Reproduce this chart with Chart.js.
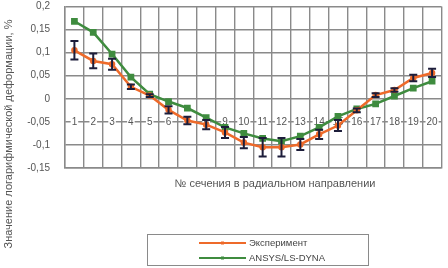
<!DOCTYPE html>
<html lang="ru">
<head>
<meta charset="utf-8">
<title>Логарифмическая деформация</title>
<script src="https://cdn.jsdelivr.net/npm/chart.js@4.4.0/dist/chart.umd.min.js"></script>
<style>
  html, body { margin: 0; padding: 0; background: #fff; }
  #wrap { width: 448px; height: 268px; position: relative; }
</style>
</head>
<body>
<div id="wrap"><canvas id="strainChart"></canvas></div>
<script>
// Номера сечений
const sections = ['1', '2', '3', '4', '5', '6', '7', '8', '9', '10',
                  '11', '12', '13', '14', '15', '16', '17', '18', '19', '20'];

// Эксперимент и погрешность (±)
const experiment = [0.105, 0.082, 0.075, 0.026, 0.007, -0.024, -0.047, -0.056, -0.073, -0.095,
                    -0.105, -0.105, -0.099, -0.077, -0.058, -0.025, 0.008, 0.019, 0.045, 0.056];
const experimentErr = [0.02, 0.016, 0.012, 0.005, 0.003, 0.008, 0.008, 0.01, 0.012, 0.012,
                       0.02, 0.02, 0.012, 0.01, 0.012, 0.004, 0.004, 0.004, 0.007, 0.009];

// Расчёт ANSYS/LS-DYNA
const ansys = [0.168, 0.144, 0.097, 0.047, 0.01, -0.006, -0.02, -0.041, -0.062, -0.075,
               -0.086, -0.092, -0.081, -0.062, -0.038, -0.022, -0.011, 0.006, 0.023, 0.038];

const seriesNames = ['Эксперимент', 'ANSYS/LS-DYNA'];
const seriesColors = ['#ee6a2a', '#3f8c3f'];

const yTitle = 'Значение логарифмической деформации, %';
const xTitle = '№ сечения в радиальном направлении';

const FONT = '"Liberation Sans", Arial, sans-serif';
const TEXT = '#555';
const GRID = '#8a8a8a';

// Подписи сечений на уровне -0,05
const sectionLabels = {
    id: 'sectionLabels',
    beforeDatasetsDraw(chart) {
        const { ctx, scales: { x, y } } = chart;
        const yy = y.getPixelForValue(-0.05);
        ctx.save();
        ctx.font = '10px ' + FONT;
        ctx.textAlign = 'center';
        ctx.textBaseline = 'middle';
        sections.forEach((s, i) => {
            const xx = x.getPixelForValue(i);
            const w = ctx.measureText(s).width + 2;
            ctx.fillStyle = '#fff';
            ctx.fillRect(xx - w / 2, yy - 4, w, 8);
            ctx.fillStyle = TEXT;
            ctx.fillText(s, xx, yy + 0.5);
        });
        ctx.restore();
    }
};

// Планки погрешностей эксперимента
const errorBars = {
    id: 'errorBars',
    afterDatasetsDraw(chart) {
        const { ctx, scales: { x, y } } = chart;
        ctx.save();
        ctx.strokeStyle = '#1d1d3a';
        ctx.lineWidth = 2;
        experiment.forEach((v, i) => {
            const xx = x.getPixelForValue(i);
            const top = y.getPixelForValue(v + experimentErr[i]);
            const bot = y.getPixelForValue(v - experimentErr[i]);
            ctx.beginPath();
            ctx.moveTo(xx, top); ctx.lineTo(xx, bot);
            ctx.moveTo(xx - 4, top); ctx.lineTo(xx + 4, top);
            ctx.moveTo(xx - 4, bot); ctx.lineTo(xx + 4, bot);
            ctx.stroke();
        });
        ctx.restore();
    }
};

// Заголовки осей и легенда в рамке
const titlesAndLegend = {
    id: 'titlesAndLegend',
    afterDraw(chart) {
        const ctx = chart.ctx;
        ctx.save();
        ctx.fillStyle = TEXT;
        ctx.font = '11px ' + FONT;
        ctx.textBaseline = 'middle';

        // ось Y
        ctx.save();
        ctx.translate(9, 134);
        ctx.rotate(-Math.PI / 2);
        ctx.textAlign = 'center';
        ctx.fillText(yTitle, 0, 0);
        ctx.restore();

        // ось X
        ctx.textAlign = 'center';
        ctx.fillText(xTitle, 275, 184);

        // легенда
        ctx.strokeStyle = '#8a8a8a';
        ctx.lineWidth = 1;
        ctx.strokeRect(147.5, 234.5, 221, 31);
        ctx.font = '9.5px ' + FONT;
        ctx.textAlign = 'left';
        [243, 258].forEach((ly, i) => {
            ctx.strokeStyle = seriesColors[i];
            ctx.lineWidth = 2;
            ctx.beginPath();
            ctx.moveTo(199, ly); ctx.lineTo(246, ly);
            ctx.stroke();
            ctx.fillStyle = seriesColors[i];
            ctx.fillRect(221, ly - 1.5, 3, 3);
            ctx.fillStyle = '#444';
            ctx.fillText(seriesNames[i], 249, ly);
        });
        ctx.restore();
    }
};

const ctx = document.getElementById('strainChart').getContext('2d');

new Chart(ctx, {
    type: 'line',
    data: {
        labels: sections,
        datasets: [
            {
                label: seriesNames[0],
                data: experiment,
                borderColor: seriesColors[0],
                backgroundColor: seriesColors[0],
                borderWidth: 2.5,
                pointRadius: 2,
                tension: 0
            },
            {
                label: seriesNames[1],
                data: ansys,
                borderColor: seriesColors[1],
                backgroundColor: seriesColors[1],
                borderWidth: 2.5,
                pointStyle: 'rect',
                pointRadius: 3,
                tension: 0
            }
        ]
    },
    options: {
        responsive: true,
        maintainAspectRatio: false,
        animation: false,
        layout: { padding: { left: 0, right: 5, top: 5, bottom: 100 } },
        plugins: {
            legend: { display: false },
            tooltip: { enabled: false }
        },
        scales: {
            x: {
                offset: true,
                grid: { offset: true, color: GRID, lineWidth: 1.4, drawTicks: false },
                border: { color: GRID, width: 1.4 },
                ticks: { display: false }
            },
            y: {
                min: -0.15,
                max: 0.2,
                grid: { color: GRID, lineWidth: 1.4, drawTicks: false },
                border: { color: GRID, width: 1.4 },
                ticks: {
                    stepSize: 0.05,
                    padding: 15,
                    color: TEXT,
                    font: { family: FONT, size: 10 },
                    callback: v => String(Math.round(v * 100) / 100).replace('.', ',')
                },
                afterFit(scale) {
                    scale.width = 65;
                    scale.paddingTop = 5;
                    scale.paddingBottom = 5;
                }
            }
        }
    },
    plugins: [sectionLabels, errorBars, titlesAndLegend]
});
</script>
</body>
</html>
